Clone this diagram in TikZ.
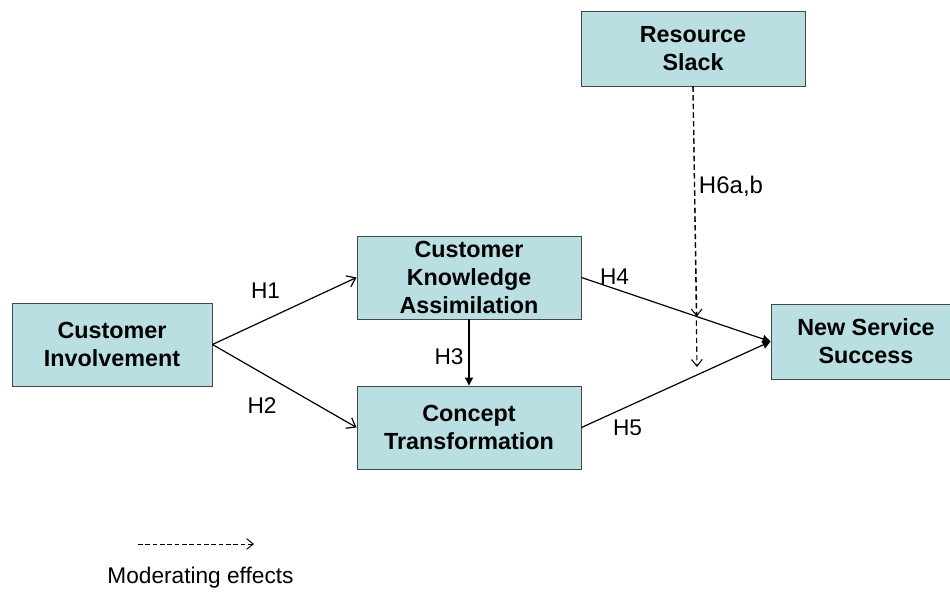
\documentclass[tikz,border=0pt]{standalone}
\usepackage{fontspec}
\setmainfont{Liberation Sans}
\usetikzlibrary{arrows.meta}
\definecolor{boxfill}{RGB}{185,223,227}
\definecolor{boxline}{RGB}{70,70,70}

\begin{document}
\begin{tikzpicture}[x=0.75pt,y=-0.75pt,
		construct/.style={rectangle,draw=boxline,fill=boxfill,line width=0.7pt,align=center,inner sep=0pt,
			font=\bfseries\fontsize{17.5}{21}\selectfont,minimum width=168pt,minimum height=62.25pt},
		hyp/.style={font=\fontsize{17}{20}\selectfont},
		link/.style={line width=0.9pt},
		open/.style={-{Straight Barb[length=6pt,width=9pt]}},
		solid tip/.style={-{Triangle[length=6pt,width=6pt]}},
		moderator/.style={line width=0.8pt,dash pattern=on 4pt off 2.5pt,-{Straight Barb[length=5pt,width=8pt]}}]
		\useasboundingbox (0,0) rectangle (950,597);
%		\draw[help lines] (0,0) grid[step=50] (950,597);
		\path (693,48.5) node(slack) [construct,minimum height=56.25pt] {Resource\\Slack};
		\path (469,277.5) node(assim) [construct] {Customer\\Knowledge\\Assimilation};
		\path (469,427.5) node(transf) [construct] {Concept\\Transformation};
		\path (112,344.5) node(involv) [construct,minimum width=150pt] {Customer\\Involvement};
		\path (866,341.5) node(success) [construct,minimum width=142.5pt,minimum height=56.25pt] {New Service\\Success};

		\draw[link,open] (involv.east) -- (assim.west);
		\draw[link,open] (involv.east) -- (transf.west);
		\draw[link,solid tip] (assim.south) -- (transf.north);
		\draw[link,solid tip] (assim.east) -- (success.west)
			coordinate[pos=0.61] (h4mod);
		\draw[link,solid tip] (transf.east) -- (success.west);

		\path (697,367) coordinate (modend);
		\draw[moderator] (slack.south) -- (h4mod);
		\draw[moderator] (slack.south) -- (modend);

		\path (265.5,291) node(h1) [hyp] {H1};
		\path (262,406) node(h2) [hyp] {H2};
		\path (449,357) node(h3) [hyp] {H3};
		\path (614.5,277) node(h4) [hyp] {H4};
		\path (627.5,427.5) node(h5) [hyp] {H5};
		\path (731,186) node(h6) [hyp,font=\fontsize{18}{21}\selectfont] {H6a,b};

		\path (138,544) coordinate (legstart);
		\path (254,544) coordinate (legend);
		\draw[moderator,line width=0.7pt,dash pattern=on 3.5pt off 2pt] (legstart) -- (legend);
		\path (200.5,578) node(legtext) [hyp] {Moderating effects};
	\end{tikzpicture}
\end{document}
